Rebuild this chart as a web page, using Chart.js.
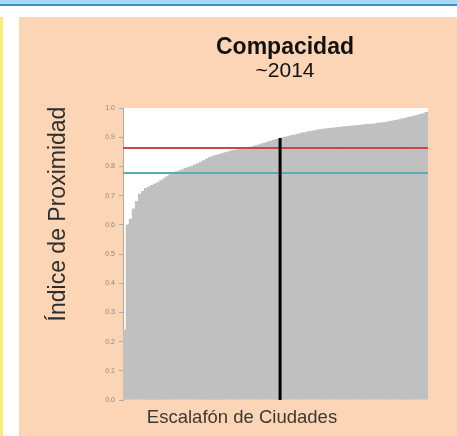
<!DOCTYPE html>
<html>
<head>
<meta charset="utf-8">
<script src="https://cdn.jsdelivr.net/npm/chart.js@4/dist/chart.umd.min.js"></script>
<style>
  html, body { margin: 0; padding: 0; background: #fff; }
  canvas { display: block; }
</style>
</head>
<body>
<canvas id="compChart" width="457" height="436"></canvas>
<script>
// indice de proximidad por ciudad, ordenado de menor a mayor
const proximidad = [
  0.24, 0.60, 0.62, 0.655, 0.68, 0.705, 0.715, 0.725, 0.73, 0.735,
  0.74, 0.745, 0.752, 0.758, 0.765, 0.772, 0.777, 0.781, 0.785, 0.789,
  0.793, 0.797, 0.80, 0.805, 0.81, 0.815, 0.82, 0.826, 0.831, 0.835,
  0.838, 0.841, 0.844, 0.847, 0.85, 0.853, 0.855, 0.857, 0.859, 0.861,
  0.863, 0.865, 0.868, 0.871, 0.874, 0.877, 0.88, 0.884, 0.887, 0.89,
  0.893, 0.896, 0.899, 0.901, 0.904, 0.906, 0.908, 0.911, 0.914, 0.916,
  0.918, 0.92, 0.922, 0.924, 0.926, 0.928, 0.929, 0.93, 0.931, 0.932,
  0.934, 0.935, 0.936, 0.937, 0.938, 0.939, 0.94, 0.941, 0.942, 0.943,
  0.944, 0.945, 0.946, 0.948, 0.949, 0.95, 0.952, 0.954, 0.956, 0.958,
  0.96, 0.963, 0.965, 0.968, 0.97, 0.972, 0.975, 0.978, 0.981, 0.985
];
// escalafon: posicion de cada ciudad
const ciudades = proximidad.map((v, i) => String(i + 1));

const yTicks = [0, 0.1, 0.2, 0.3, 0.4, 0.5, 0.6, 0.7, 0.8, 0.9, 1.0];

// lineas de referencia
const refLines = [
  { value: 0.863, color: '#C9474B' },
  { value: 0.777, color: '#55AEB4' }
];
// ciudad resaltada
const marcaIndex = 51;
const marcaValor = 0.897;

const titulo = 'Compacidad';
const subtitulo = '~2014';
const tituloY = 'Índice de Proximidad';
const tituloX = 'Escalafón de Ciudades';

const PEACH = '#FBD5B5';

const framePlugin = {
  id: 'frame',
  beforeDraw(chart) {
    const ctx = chart.ctx;
    const w = chart.width, h = chart.height;
    ctx.save();
    ctx.fillStyle = '#fff';
    ctx.fillRect(0, 0, w, h);
    // banda azul arriba
    ctx.fillStyle = '#A9D9F2';
    ctx.fillRect(0, 0, w, 4);
    ctx.fillStyle = '#3C8FCF';
    ctx.fillRect(0, 4, w, 2);
    // franja amarilla izquierda
    ctx.fillStyle = '#FFE88A';
    ctx.fillRect(0, 17, 3, h - 17);
    // panel
    ctx.fillStyle = PEACH;
    ctx.fillRect(19, 17, w - 19, h - 17);
    // area de la grafica
    const a = chart.chartArea;
    ctx.fillStyle = '#fff';
    ctx.fillRect(a.left, a.top, a.right - a.left, a.bottom - a.top);
    ctx.restore();
  },
  afterDatasetsDraw(chart) {
    const ctx = chart.ctx;
    const a = chart.chartArea;
    const x = chart.scales.x, y = chart.scales.y;
    ctx.save();
    refLines.forEach(r => {
      const py = Math.round(y.getPixelForValue(r.value));
      ctx.strokeStyle = r.color;
      ctx.lineWidth = 2;
      ctx.beginPath();
      ctx.moveTo(a.left, py);
      ctx.lineTo(a.right, py);
      ctx.stroke();
    });
    const px = x.getPixelForValue(marcaIndex);
    ctx.strokeStyle = '#000';
    ctx.lineWidth = 3;
    ctx.beginPath();
    ctx.moveTo(px, y.getPixelForValue(marcaValor));
    ctx.lineTo(px, y.getPixelForValue(0));
    ctx.stroke();
    ctx.restore();
  },
  afterDraw(chart) {
    const ctx = chart.ctx;
    ctx.save();
    ctx.fillStyle = '#111';
    ctx.textAlign = 'center';
    ctx.textBaseline = 'alphabetic';
    ctx.font = 'bold 23px "Liberation Sans", Arial, sans-serif';
    ctx.fillText(titulo, 285, 54);
    ctx.font = '21px "Liberation Sans", Arial, sans-serif';
    ctx.fillText(subtitulo, 285, 77);

    ctx.fillStyle = '#3d3832';
    ctx.font = '18.5px "Liberation Sans", Arial, sans-serif';
    ctx.fillText(tituloX, 242, 423);

    ctx.fillStyle = '#2e2e2e';
    ctx.font = '23px "Liberation Sans", Arial, sans-serif';
    ctx.translate(65, 214);
    ctx.rotate(-Math.PI / 2);
    ctx.fillText(tituloY, 0, 0);
    ctx.restore();
  }
};

new Chart(document.getElementById('compChart'), {
  type: 'bar',
  data: {
    labels: ciudades,
    datasets: [{
      data: proximidad,
      backgroundColor: '#C0C0C0',
      borderWidth: 0,
      barPercentage: 1,
      categoryPercentage: 1
    }]
  },
  options: {
    responsive: false,
    animation: false,
    devicePixelRatio: 1,
    layout: { padding: { left: 0, right: 29, top: 108, bottom: 36 } },
    plugins: { legend: { display: false }, tooltip: { enabled: false } },
    scales: {
      x: { display: false },
      y: {
        min: 0,
        max: 1,
        afterFit(scale) { scale.width = 123; },
        afterBuildTicks(scale) { scale.ticks = yTicks.map(v => ({ value: v })); },
        ticks: {
          font: { size: 7, family: '"Liberation Sans", Arial, sans-serif' },
          color: '#8a8a8a',
          padding: 4,
          callback: v => Number(v).toFixed(1)
        },
        grid: { drawOnChartArea: false, tickLength: 4, color: '#aaa' },
        border: { color: '#aaa' }
      }
    }
  },
  plugins: [framePlugin]
});
</script>
</body>
</html>
